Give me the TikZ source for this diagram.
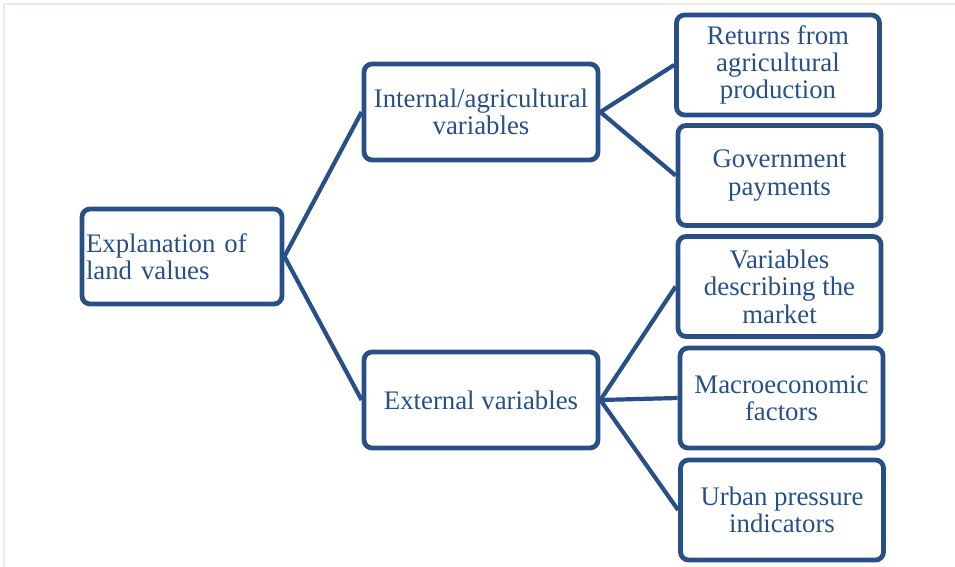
\documentclass[tikz,border=0pt]{standalone}
\usepackage{fontspec}
\setmainfont{Liberation Serif}
\usetikzlibrary{positioning}
\definecolor{boxblue}{RGB}{40,80,135}
\definecolor{framebeige}{RGB}{238,235,224}
\tikzset{
factor box/.style = { rectangle, draw = boxblue, line width = 2.4pt, fill = white, rounded corners = 4pt, align = center, text = boxblue, font = \fontsize{13.4}{13.7}\selectfont, inner sep = 2pt },
root box/.style = { factor box, align = left, text width = 96pt, minimum width = 100pt, minimum height = 47.5pt },
mid box/.style = { factor box, minimum width = 117pt, minimum height = 48pt },
leaf box/.style = { factor box, minimum width = 101.5pt, minimum height = 50pt },
link/.style = { draw = boxblue, line width = 2.1pt },
}
\begin{document}
\begin{tikzpicture}[x = 0.5pt, y = -0.5pt]
    \useasboundingbox (0, 0) rectangle (955, 567);
    \draw[framebeige, line width = 1pt] (4, 567) -- (4, 4) -- (955, 4);
    \node[root box] (root) at (182, 256.5) {Explanation of\\land values};
    \node[mid box] (internal) at (481, 112) {Internal/agricultural\\variables};
    \node[mid box] (external) at (481, 400) {External variables};
    \node[leaf box] (returns) at (778, 65) {Returns from\\agricultural\\production};
    \node[leaf box] (government) at (779.5, 175.5) {Government\\payments};
    \node[leaf box] (market) at (779.5, 286.5) {Variables\\describing the\\market};
    \node[leaf box] (macro) at (781.5, 398) {Macroeconomic\\factors};
    \node[leaf box] (urban) at (782, 510) {Urban pressure\\indicators};
    \draw[link] (root.east) -- (internal.west);
    \draw[link] (root.east) -- (external.west);
    \draw[link] (internal.east) -- (returns.west);
    \draw[link] (internal.east) -- (government.west);
    \draw[link] (external.east) -- (market.west);
    \draw[link] (external.east) -- (macro.west);
    \draw[link] (external.east) -- (urban.west);
\end{tikzpicture}
\end{document}
